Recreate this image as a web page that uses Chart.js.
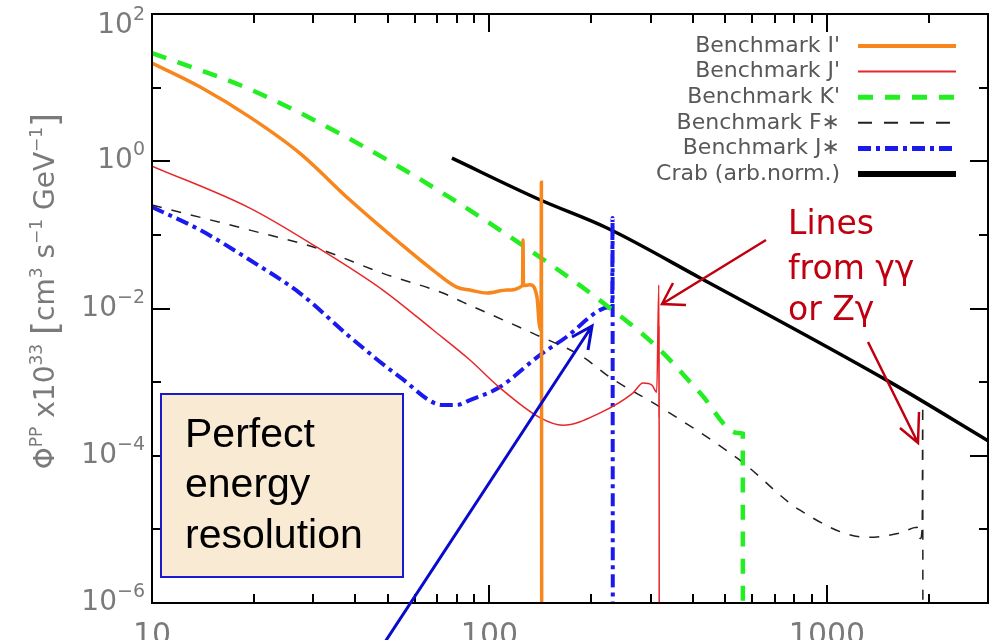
<!DOCTYPE html>
<html>
<head>
<meta charset="utf-8">
<script src="https://cdn.jsdelivr.net/npm/chart.js@4/dist/chart.umd.min.js"></script>
<style>
  html, body { margin: 0; padding: 0; background: #fff; }
  canvas { display: block; }
</style>
</head>
<body>
<canvas id="fluxChart" width="996" height="640"></canvas>
<script>
// Energy (GeV) and flux (x1e33)
const iEnergy = [10, 13.9, 19.5, 27.4, 38.6, 54.3, 68.1, 80, 87.5, 98.4, 112.7, 125.3, 125.7, 126.1, 131.8, 138.3, 140.3, 142.2, 142.5, 142.8];
const iFlux   = [21.6, 10.2, 3.98, 1.29, 0.297, 0.077, 0.033, 0.0195, 0.0178, 0.0162, 0.0178, 0.0205, 0.085, 0.0205, 0.021, 0.0143, 0.0063, 0.005, 0.52, 1e-7];

const jEnergy = [10, 19.5, 30.8, 48.3, 68.1, 87.5, 107, 141, 165, 212, 266, 285, 303, 313, 317.5, 317.8, 318.0, 318.2, 318.4];
const jFlux   = [0.86, 0.231, 0.068, 0.0178, 0.0051, 0.002, 8.5e-4, 3.3e-4, 2.6e-4, 3.8e-4, 7.1e-4, 9.7e-4, 9.1e-4, 7.3e-4, 0.0208, 3.3e-4, 0.0056, 4e-4, 1e-7];

const kEnergy = [10, 19.5, 38.6, 76.4, 148, 212, 316, 421, 545, 563, 563.5];
const kFlux   = [29.5, 9.5, 2.0, 0.32, 0.0427, 0.013, 0.0029, 7.1e-4, 2.03e-4, 2.0e-4, 1e-7];

const fEnergy = [10, 19.5, 30.8, 48.3, 72.8, 83.4, 134.6, 189, 227, 320, 552, 832, 1315, 1645, 1848, 1890, 1915, 1922, 1924];
const fFlux   = [0.254, 0.116, 0.066, 0.030, 0.0162, 0.0122, 0.0046, 0.0022, 0.00117, 4.6e-4, 8.7e-5, 1.82e-5, 7.8e-6, 8.9e-6, 1.07e-5, 7.5e-6, 1.1e-5, 4.9e-4, 1e-7];

const jsEnergy = [10, 13.9, 19.5, 27.4, 38.6, 54.3, 72.8, 80, 87.5, 107, 141, 169, 212, 228, 231, 231.5, 232];
const jsFlux   = [0.239, 0.116, 0.0455, 0.0162, 0.0041, 1.17e-3, 4.9e-4, 4.9e-4, 5.7e-4, 8.5e-4, 2.33e-3, 4.1e-3, 9.5e-3, 0.0105, 0.0105, 0.169, 1e-7];

const crabEnergy = [77.4, 141, 223, 421, 1538, 3000];
const crabFlux   = [1.1, 0.30, 0.124, 0.026, 1e-3, 1.6e-4];

const seriesLabels = ["Benchmark I'", "Benchmark J'", "Benchmark K'", "Benchmark F\u2217", "Benchmark J\u2217", "Crab (arb.norm.)"];

// Tick labels
const xTickValues = [10, 100, 1000];
const xTickLabels = ['10', '100', '1000'];
const yTickValues = [1e2, 1e0, 1e-2, 1e-4, 1e-6];
const yTickExponents = ['2', '0', '\u22122', '\u22124', '\u22126'];

const xMinorTicks = [20, 30, 40, 50, 60, 70, 80, 90, 200, 300, 400, 500, 600, 700, 800, 900, 2000];
const yAllTicks = [1e2, 1e1, 1e0, 1e-1, 1e-2, 1e-3, 1e-4, 1e-5, 1e-6];

function toPoints(xs, ys) {
  return xs.map((v, i) => ({ x: v, y: ys[i] }));
}

// draw text runs, some of them raised as superscripts
function richWidth(ctx, parts, base, sup) {
  let w = 0;
  parts.forEach(p => { ctx.font = p.font || (p.sup ? sup : base); w += ctx.measureText(p.t).width; });
  return w;
}
function drawRich(ctx, parts, x, y, base, sup, raise) {
  parts.forEach(p => {
    ctx.font = p.font || (p.sup ? sup : base);
    ctx.fillText(p.t, x, y - (p.sup ? raise : 0) + (p.shift || 0));
    x += ctx.measureText(p.t).width;
  });
}

function arrow(ctx, x1, y1, x2, y2, ax1, ay1, ax2, ay2) {
  ctx.beginPath();
  ctx.moveTo(x1, y1); ctx.lineTo(x2, y2);
  ctx.moveTo(ax1, ay1); ctx.lineTo(x2, y2); ctx.lineTo(ax2, ay2);
  ctx.stroke();
}

const overlay = {
  id: 'overlay',
  beforeDraw(chart) {
    const ctx = chart.ctx;
    ctx.save();
    ctx.fillStyle = '#fff';
    ctx.fillRect(0, 0, chart.width, chart.height);
    ctx.restore();
  },
  afterDatasetsDraw(chart) {
    const { ctx, chartArea: a, scales: { x, y } } = chart;
    ctx.save();
    ctx.setLineDash([]);

    // frame and inward ticks
    ctx.fillStyle = '#000';
    ctx.strokeStyle = '#000';
    ctx.lineWidth = 2;
    ctx.strokeRect(a.left, a.top, a.right - a.left, a.bottom - a.top);
    xTickValues.concat(xMinorTicks).forEach(v => {
      const px = Math.round(x.getPixelForValue(v));
      const len = xTickValues.includes(v) ? 18 : 9;
      ctx.fillRect(px - 1, a.bottom - len, 2, len);
      ctx.fillRect(px - 1, a.top, 2, len);
    });
    yAllTicks.forEach(v => {
      const py = Math.round(y.getPixelForValue(v));
      const len = yTickValues.includes(v) ? 18 : 9;
      ctx.fillRect(a.left, py - 1, len, 2);
      ctx.fillRect(a.right - len, py - 1, len, 2);
    });

    // tick labels
    ctx.fillStyle = '#7a7a7a';
    ctx.textAlign = 'left';
    ctx.textBaseline = 'alphabetic';
    const base = '28px "DejaVu Sans"', sup = '19px "DejaVu Sans"';
    yTickValues.forEach((v, i) => {
      const parts = [{ t: '10' }, { t: yTickExponents[i], sup: true }];
      const w = richWidth(ctx, parts, base, sup);
      const by = Math.max(y.getPixelForValue(v) + 7, 33);
      drawRich(ctx, parts, 145 - w, by, base, sup, 13);
    });
    ctx.font = '30px "DejaVu Sans"';
    ctx.textAlign = 'center';
    ctx.textBaseline = 'top';
    xTickValues.forEach((v, i) => ctx.fillText(xTickLabels[i], x.getPixelForValue(v), 621));

    // y axis title
    ctx.save();
    ctx.translate(54, 291);
    ctx.rotate(-Math.PI / 2);
    ctx.textAlign = 'left';
    ctx.textBaseline = 'alphabetic';
    const tb = '28px "DejaVu Sans"', ts = '17px "DejaVu Sans"', br = '36px "DejaVu Sans"';
    const title = [
      { t: '\u03A6' }, { t: 'PP', sup: true }, { t: ' x10' }, { t: '33', sup: true },
      { t: ' ' }, { t: '[', font: br, shift: 3 }, { t: 'cm' }, { t: '3', sup: true }, { t: ' s' }, { t: '\u22121', sup: true },
      { t: ' GeV' }, { t: '\u22121', sup: true }, { t: ']', font: br, shift: 3 }
    ];
    const tw = richWidth(ctx, title, tb, ts);
    drawRich(ctx, title, -tw / 2, 0, tb, ts, 12);
    ctx.restore();

    // legend
    ctx.font = '22px "DejaVu Sans"';
    ctx.fillStyle = '#585858';
    ctx.textAlign = 'right';
    ctx.textBaseline = 'middle';
    chart.data.datasets.forEach((ds, i) => {
      const ry = 46 + i * 25.6;
      ctx.fillText(ds.label, 840, ry);
      ctx.save();
      ctx.strokeStyle = ds.borderColor;
      ctx.lineWidth = ds.legendWidth;
      ctx.setLineDash(ds.legendDash || []);
      ctx.beginPath();
      ctx.moveTo(858, ry); ctx.lineTo(956, ry);
      ctx.stroke();
      ctx.restore();
    });

    // "Perfect energy resolution" box
    ctx.fillStyle = '#f9ead4';
    ctx.fillRect(161, 394, 242, 183);
    ctx.strokeStyle = '#1a1acc';
    ctx.lineWidth = 2;
    ctx.strokeRect(161, 394, 242, 183);
    ctx.fillStyle = '#000';
    ctx.textAlign = 'left';
    ctx.textBaseline = 'alphabetic';
    ctx.font = '41px "Liberation Sans"';
    ctx.fillText('Perfect', 185, 447);
    ctx.fillText('energy', 185, 497);
    ctx.fillText('resolution', 185, 548);

    // red note and arrows
    ctx.fillStyle = '#c00010';
    ctx.font = '33px "DejaVu Sans"';
    ctx.fillText('Lines', 788, 234);
    ctx.fillText('from \u03B3\u03B3', 788, 279);
    ctx.fillText('or Z\u03B3', 788, 320);
    ctx.strokeStyle = '#c00010';
    ctx.lineWidth = 2.5;
    arrow(ctx, 766, 240, 662, 304, 686, 305, 673, 283);
    arrow(ctx, 868, 342, 918, 443, 900, 428, 919, 412);

    // blue arrow
    ctx.strokeStyle = '#0a0acc';
    ctx.lineWidth = 3;
    arrow(ctx, 383, 645, 592, 326, 572, 337, 588, 350);

    ctx.restore();
  }
};

const ctx = document.getElementById('fluxChart').getContext('2d');
new Chart(ctx, {
  type: 'scatter',
  data: {
    datasets: [
      { label: seriesLabels[0], data: toPoints(iEnergy, iFlux), borderColor: '#f7861c', borderWidth: 3.5, legendWidth: 4 },
      { label: seriesLabels[1], data: toPoints(jEnergy, jFlux), borderColor: '#e8262a', borderWidth: 1.5, legendWidth: 2 },
      { label: seriesLabels[2], data: toPoints(kEnergy, kFlux), borderColor: '#22ee22', borderWidth: 4.5, borderDash: [15, 12], legendWidth: 5, legendDash: [15, 12] },
      { label: seriesLabels[3], data: toPoints(fEnergy, fFlux), borderColor: '#222', borderWidth: 1.5, borderDash: [10, 10], legendWidth: 2, legendDash: [14, 12] },
      { label: seriesLabels[4], data: toPoints(jsEnergy, jsFlux), borderColor: '#1a1aee', borderWidth: 4, borderDash: [13, 5, 4, 5], legendWidth: 5, legendDash: [13, 5, 4, 5] },
      { label: seriesLabels[5], data: toPoints(crabEnergy, crabFlux), borderColor: '#000', borderWidth: 3.5, legendWidth: 6 }
    ].map(ds => Object.assign(ds, { showLine: true, pointRadius: 0, cubicInterpolationMode: 'monotone', fill: false }))
  },
  options: {
    responsive: false,
    animation: false,
    layout: { padding: { left: 152, top: 14, right: 8, bottom: 37 } },
    scales: {
      x: { type: 'logarithmic', min: 10, max: 3000, display: false },
      y: { type: 'logarithmic', min: 1e-6, max: 100, display: false }
    },
    plugins: {
      legend: { display: false },
      tooltip: { enabled: false }
    }
  },
  plugins: [overlay]
});
</script>
</body>
</html>
